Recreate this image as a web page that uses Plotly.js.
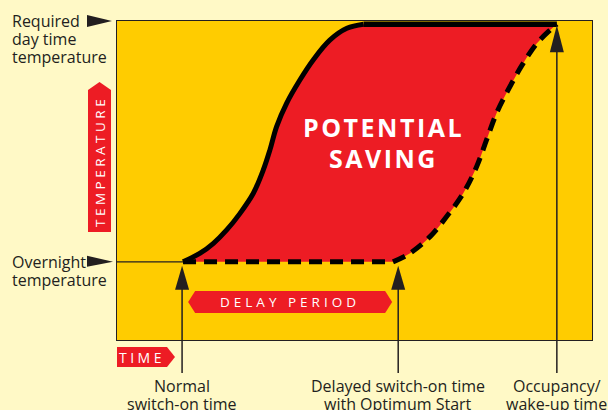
<!DOCTYPE html>
<html><head><meta charset="utf-8">
<script src="https://cdn.plot.ly/plotly-3.0.1.min.js"></script>
<style>html,body{margin:0;padding:0;background:#FFF9C6;} #chart{width:608px;height:410px;}</style>
</head><body><div id="chart"></div>
<script>
// ---- data (time and temperature on 0-100 relative scales) ----
const overnightTemp = 24.5;
const dayTemp = 99.0;
const normalSwitchOn = 13.7;
const delayedSwitchOn = 59.2;
const occupancyTime = 92.6;

// heating curve with normal (fixed) switch-on
const normalTime = [13.9, 17.5, 20.3, 23.1, 25.9, 28.7, 30.8, 32.2, 33.6, 35.7, 38.5, 41.3, 44.8, 48.4, 51.9];
const normalTemp = [24.5, 27.2, 30.3, 34.5, 39.7, 46.0, 53.3, 59.6, 66.9, 74.2, 81.5, 87.8, 94.0, 97.7, 99.0];

// heating curve with Optimum Start (delayed switch-on)
const optimumTime = [58.1, 61.7, 65.9, 69.4, 72.9, 75.7, 77.8, 79.9, 82.7, 85.5, 88.4, 91.2, 92.6];
const optimumTemp = [24.5, 27.2, 32.4, 38.7, 46.0, 54.3, 62.7, 71.1, 79.4, 86.7, 93.0, 97.2, 99.0];

const leftLabels = ["Required", "day time", "temperature"];
const overnightLabels = ["Overnight", "temperature"];
const bottomLabels = [["Normal", "switch-on time"], ["Delayed switch-on time", "with Optimum Start"], ["Occupancy/", "wake-up time"]];

// ---- colours ----
const INK = '#231F20', RED = '#ED1C24', YEL = '#FFCC00', PAPER = '#FFF9C6';

const traces = [
  // fill boundaries (lower = optimum curve, upper = normal curve + plateau)
  {x: optimumTime, y: optimumTemp, mode: 'lines', line: {width: 0, shape: 'spline'}, hoverinfo: 'skip'},
  {x: normalTime.concat([occupancyTime]), y: normalTemp.concat([dayTemp]), mode: 'lines',
   line: {width: 0, shape: 'spline'}, fill: 'tonexty', fillcolor: RED, hoverinfo: 'skip'},
  // visible lines
  {x: [0, normalTime[0]], y: [overnightTemp, overnightTemp], mode: 'lines', line: {color: INK, width: 1.2}},
  {x: [normalTime[0], optimumTime[0]], y: [overnightTemp, optimumTemp[0]], mode: 'lines', line: {color: '#000', width: 5, dash: '13px,8px'}},
  {x: optimumTime, y: optimumTemp, mode: 'lines', line: {color: '#000', width: 5, shape: 'spline', dash: '13px,8px'}},
  {x: normalTime, y: normalTemp, mode: 'lines', line: {color: '#000', width: 5, shape: 'spline'}},
  {x: [normalTime[normalTime.length - 1], occupancyTime], y: [dayTemp, dayTemp], mode: 'lines', line: {color: '#000', width: 5.5}}
];

const L = 117, T = 21, W = 475, H = 319;
const P = px => (px - L) / W;
const Q = py => (T + H - py) / H;

const shapes = [];
// vertical arrows
[[normalSwitchOn, overnightTemp, 280], [delayedSwitchOn, overnightTemp, 280], [occupancyTime, dayTemp, 40]].forEach(([t, lvl, top]) => {
  shapes.push({type: 'line', xref: 'x', yref: 'paper', x0: t, x1: t, y0: Q(373), y1: Q(top), line: {color: INK, width: 1.5}});
  const tip = lvl === dayTemp ? -1 : -4;
  shapes.push({type: 'path', xref: 'x', xsizemode: 'pixel', xanchor: t, yref: 'y', ysizemode: 'pixel', yanchor: lvl,
    path: `M0,${tip} L-7,-28 L7,-28 Z`, fillcolor: INK, line: {width: 0}});
});
// left pointers
shapes.push({type: 'path', xref: 'paper', xsizemode: 'pixel', xanchor: 0, yref: 'paper', ysizemode: 'pixel', yanchor: 1,
  path: 'M-30,6 L-5,0 L-30,-6 Z', fillcolor: INK, line: {width: 0}});
shapes.push({type: 'path', xref: 'paper', xsizemode: 'pixel', xanchor: 0, yref: 'y', ysizemode: 'pixel', yanchor: overnightTemp,
  path: 'M-30,6 L-4,0 L-30,-5 Z', fillcolor: INK, line: {width: 0}});
// red label boxes
shapes.push({type: 'path', xref: 'paper', xsizemode: 'pixel', xanchor: 0, yref: 'paper', ysizemode: 'pixel', yanchor: 0,
  path: 'M-29,108 L-6,108 L-6,250 L-17.5,258 L-29,250 Z', fillcolor: RED, line: {width: 0}});
shapes.push({type: 'path', xref: 'paper', xsizemode: 'pixel', xanchor: 0, yref: 'paper', ysizemode: 'pixel', yanchor: 0,
  path: 'M0,-7 L50,-7 L58,-17 L50,-27 L0,-27 Z', fillcolor: RED, line: {width: 0}});
const delayMid = (normalSwitchOn + delayedSwitchOn) / 2;
shapes.push({type: 'path', xref: 'x', xsizemode: 'pixel', xanchor: delayMid, yref: 'paper', ysizemode: 'pixel', yanchor: 0,
  path: 'M-102,38 L-95,49 L95,49 L102,38 L95,27 L-95,27 Z', fillcolor: RED, line: {width: 0}});

const ann = [];
const txt = (o) => ann.push(Object.assign({showarrow: false, yanchor: 'middle', font: {family: 'Open Sans', size: 16, color: INK}}, o));
const leftMids = [21, 39, 57];
leftLabels.forEach((s, i) => txt({text: s, xref: 'paper', yref: 'paper', x: P(10), y: Q(leftMids[i]), xanchor: 'left'}));
const ovMids = [262, 280];
overnightLabels.forEach((s, i) => txt({text: s, xref: 'paper', yref: 'paper', x: P(10), y: Q(ovMids[i]), xanchor: 'left'}));
const times = [normalSwitchOn, delayedSwitchOn, occupancyTime];
bottomLabels.forEach((pair, k) => pair.forEach((s, i) =>
  txt({text: s, xref: 'x', yref: 'paper', x: times[k], y: Q(i === 0 ? 386 : 404), xanchor: 'center'})));
const white = (size, w) => ({family: 'Open Sans', size: size, color: '#FFFFFF', weight: w || 400});
txt({text: '<span style="letter-spacing:3.5px">TEMPERATURE</span>', xref: 'paper', yref: 'paper', x: P(100), y: Q(162), xanchor: 'center', textangle: -90, font: white(13.5)});
txt({text: '<span style="letter-spacing:4px">DELAY PERIOD</span>', xref: 'x', yref: 'paper', x: delayMid, y: Q(302), xanchor: 'center', font: white(13.5)});
txt({text: '<span style="letter-spacing:3.5px">TIME</span>', xref: 'paper', yref: 'paper', x: P(142), y: Q(357), xanchor: 'center', font: white(14)});
txt({text: '<span style="letter-spacing:2.5px">POTENTIAL</span>', xref: 'paper', yref: 'paper', x: P(383), y: Q(127), xanchor: 'center', font: white(25, 700)});
txt({text: '<span style="letter-spacing:2.5px">SAVING</span>', xref: 'paper', yref: 'paper', x: P(383), y: Q(157.5), xanchor: 'center', font: white(25, 700)});

const axis = {range: [0, 100], showgrid: false, zeroline: false, showticklabels: false, ticks: '',
  showline: true, mirror: true, linecolor: INK, linewidth: 1, fixedrange: true};

const layout = {
  width: 608, height: 410,
  margin: {l: L, r: 608 - L - W, t: T, b: 410 - T - H, pad: 0},
  paper_bgcolor: PAPER, plot_bgcolor: YEL,
  showlegend: false,
  font: {family: 'Open Sans', color: INK},
  xaxis: axis, yaxis: Object.assign({}, axis),
  shapes: shapes, annotations: ann
};
Plotly.newPlot('chart', traces, layout, {staticPlot: true, displayModeBar: false});
</script></body></html>
